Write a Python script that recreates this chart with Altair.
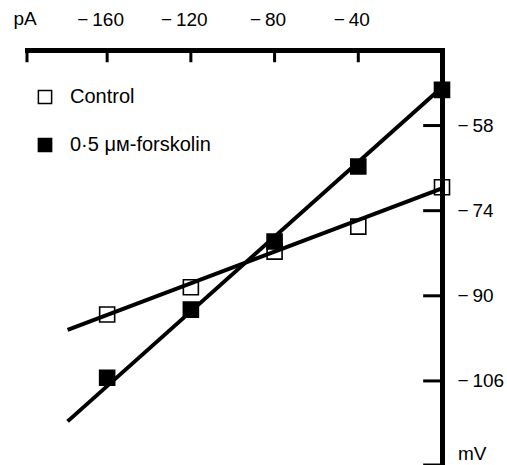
import altair as alt
import pandas as pd

# ---- data ----
currents_pa = [-160, -120, -80, -40, 0]
control_mv = [-93.5, -88.4, -81.7, -77.0, -69.6]
forskolin_mv = [-105.4, -92.6, -79.8, -65.7, -51.3]

fit_pa = [-178.9, 0]
control_fit_mv = [-96.4, -69.8]
forskolin_fit_mv = [-113.6, -50.8]

series_names = ["Control", "0·5 μᴍ-forskolin"]

x_tick_values = [-160, -120, -80, -40]
y_tick_values = [-58, -74, -90, -106]
x_domain = [-198.3, 0]
y_domain = [-121.8, -43.8]

FONT = "Liberation Sans, Arial, DejaVu Sans"

# ---- tables ----
points = pd.DataFrame({
    "pA": currents_pa * 2,
    "mV": control_mv + forskolin_mv,
    "series": [series_names[0]] * len(currents_pa) + [series_names[1]] * len(currents_pa),
})
fits = pd.DataFrame({
    "pA": fit_pa * 2,
    "mV": control_fit_mv + forskolin_fit_mv,
    "series": [series_names[0]] * 2 + [series_names[1]] * 2,
})
xticks = pd.DataFrame({"pA": [x_domain[0]] + x_tick_values})
yticks = pd.DataFrame({"mV": y_tick_values + [y_domain[0]]})

minus_expr = "'\u2212\u2009' + abs(datum.value)"

x_scale = alt.Scale(domain=x_domain, nice=False, zero=False)
y_scale = alt.Scale(domain=y_domain, nice=False, zero=False)

x_axis = alt.Axis(
    orient="top", values=x_tick_values, labelExpr=minus_expr, ticks=False, tickSize=0,
    domainWidth=5, domainColor="black", domainCap="square", grid=False, title=None,
    labelFont=FONT, labelFontSize=19, labelColor="black", labelPadding=25,
    labelBaseline="alphabetic", labelOffset=-7, labelFlush=False, zindex=1,
)
y_axis = alt.Axis(
    orient="right", values=y_tick_values, labelExpr=minus_expr, ticks=False, tickSize=0,
    domainWidth=5, domainColor="black", domainCap="square", grid=False, title=None,
    labelFont=FONT, labelFontSize=19, labelColor="black", labelPadding=15,
    labelFlush=False, zindex=1,
)

X = alt.X("pA:Q", scale=x_scale, axis=x_axis)
Y = alt.Y("mV:Q", scale=y_scale, axis=y_axis)

pts = alt.Chart(points).mark_point(
    shape="square", filled=True, size=225, stroke="black", strokeWidth=1.6, opacity=1
).encode(
    x=X, y=Y,
    fill=alt.Fill(
        "series:N",
        scale=alt.Scale(domain=series_names, range=["white", "black"]),
        legend=alt.Legend(
            orient="none", legendX=8, legendY=37, title=None,
            symbolType="square", symbolSize=175, symbolStrokeColor="black",
            symbolStrokeWidth=1.5, symbolOpacity=1,
            labelFont=FONT, labelFontSize=20, labelColor="black",
            labelOffset=15, rowPadding=28, padding=0,
        ),
    ),
)

lines = alt.Chart(fits).mark_line(color="black", strokeWidth=4).encode(
    x=X, y=Y, detail="series:N"
)

xtick_rules = alt.Chart(xticks).mark_rule(color="black", strokeWidth=3).encode(
    x=X, y=alt.datum(y_domain[1]), y2=alt.datum(y_domain[1] - 2.3)
)
ytick_rules = alt.Chart(yticks).mark_rule(color="black", strokeWidth=3).encode(
    y=Y, x=alt.datum(0), x2=alt.datum(-9)
)

pa_label = alt.Chart(pd.DataFrame({"t": ["pA"]})).mark_text(
    font=FONT, fontSize=19, color="black", align="center", baseline="alphabetic",
    dx=-2, dy=-25,
).encode(x=alt.datum(x_domain[0]), y=alt.datum(y_domain[1]), text="t:N")

mv_label = alt.Chart(pd.DataFrame({"t": ["mV"]})).mark_text(
    font=FONT, fontSize=19, color="black", align="left", baseline="alphabetic",
    dx=16, dy=-5,
).encode(x=alt.datum(0), y=alt.datum(y_domain[0]), text="t:N")

chart = alt.layer(pts, lines, xtick_rules, ytick_rules, pa_label, mv_label).properties(
    width=415, height=415,
    autosize=alt.AutoSizeParams(type="none"),
    padding={"left": 27, "top": 50, "right": 65, "bottom": 0},
    background="white",
).configure_view(stroke=None)

chart.save("out.html", embed_options={"renderer": "svg", "actions": False})
